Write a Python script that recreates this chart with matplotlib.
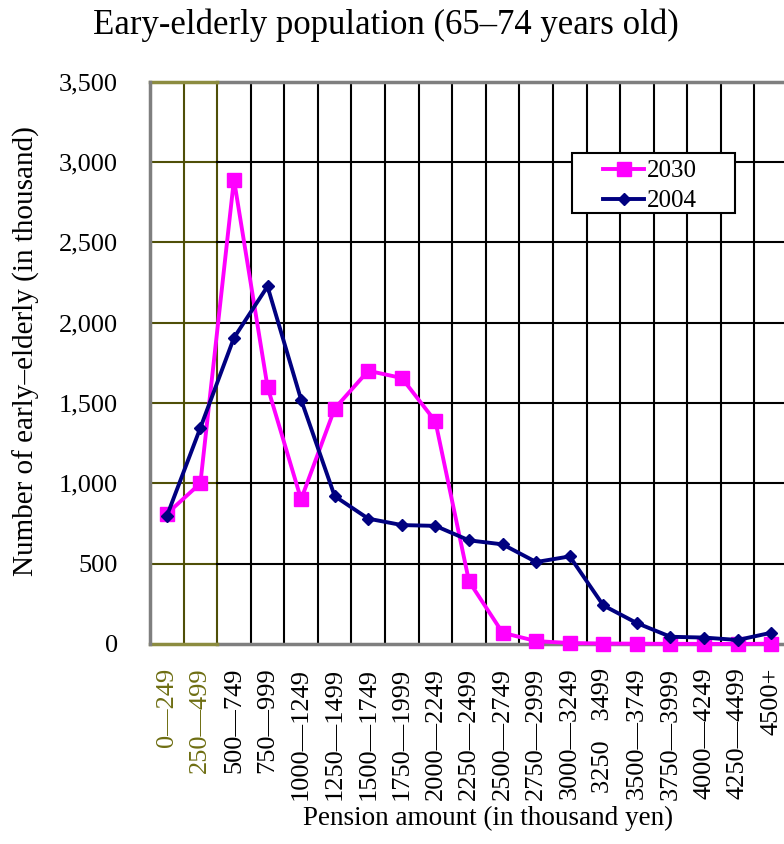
import matplotlib
matplotlib.use("Agg")
import matplotlib.pyplot as plt
from matplotlib.patches import Rectangle
import numpy as np

plt.rcParams["font.family"] = ["Liberation Serif", "DejaVu Serif"]

# data (thousand persons)
categories = ["0—249", "250—499", "500—749", "750—999", "1000—1249", "1250—1499",
              "1500—1749", "1750—1999", "2000—2249", "2250—2499", "2500—2749",
              "2750—2999", "3000—3249", "3250   3499", "3500—3749", "3750—3999",
              "4000—4249", "4250—4499", "4500+"]
pop_2030 = [810, 1000, 2890, 1600, 900, 1465, 1700, 1655, 1385, 390, 70,
            18, 6, 3, 2, 1, 1, 0, 2]
pop_2004 = [795, 1345, 1905, 2225, 1520, 920, 780, 740, 735, 645, 620,
            510, 545, 240, 130, 45, 40, 25, 70]
yticks = [0, 500, 1000, 1500, 2000, 2500, 3000, 3500]

W, H = 784, 844
OLIVE_GRID = "#4f4f08"
OLIVE_EDGE = "#8c8c40"
OLIVE_TEXT = "#6e6e12"
EDGE_GRAY = "#7f7f7f"

fig = plt.figure(figsize=(W / 100, H / 100), dpi=100)
ax = fig.add_axes([150 / W, (H - 644) / H, (788 - 150) / W, (644 - 81.5) / H])

n = len(categories)
x = np.arange(n)
ax.set_xlim(-0.5, n - 0.5)
ax.set_ylim(0, 3500)

# grid: first two columns drawn in olive
for k in range(1, n):
    ax.axvline(k - 0.5, color=OLIVE_GRID if k <= 2 else "black", lw=1.5, zorder=1)
for v in yticks[1:-1]:
    ax.plot([-0.5, 1.5], [v, v], color=OLIVE_GRID, lw=1.5, zorder=1)
    ax.plot([1.5, n - 0.5], [v, v], color="black", lw=1.5, zorder=1)
for v in (0, 3500):
    ax.plot([1.5, n - 0.5], [v, v], color=EDGE_GRAY, lw=2.5, zorder=2, clip_on=False)
    ax.plot([-0.5, 1.5], [v, v], color=OLIVE_EDGE, lw=2.5, zorder=2, clip_on=False)

for s in ["top", "bottom", "right"]:
    ax.spines[s].set_visible(False)
ax.spines["left"].set_color(EDGE_GRAY)
ax.spines["left"].set_linewidth(2.5)

ax.plot(x, pop_2030, color="#ff00ff", lw=2.8, marker="s", markersize=10,
        label="2030", zorder=3, clip_on=False)
ax.plot(x, pop_2004, color="#000080", lw=2.8, marker="D", markersize=6,
        label="2004", zorder=4, clip_on=False)

ax.set_yticks(yticks)
ax.set_yticklabels(["{:,}".format(v) for v in yticks], fontsize=19)
ax.set_xticks(x)
ax.set_xticklabels(categories, rotation=90, fontsize=19, va="top", ha="center")
for i, lab in enumerate(ax.get_xticklabels()):
    if i < 2:
        lab.set_color(OLIVE_TEXT)
ax.tick_params(axis="y", length=0, pad=23)
ax.tick_params(axis="x", length=0, pad=17)

# legend box drawn separately to match the wide frame
box = Rectangle((572 / W, 1 - 213 / H), (735 - 572) / W, 60 / H,
                transform=fig.transFigure, facecolor="white",
                edgecolor="black", lw=1.5, zorder=5, clip_on=False)
ax.add_patch(box)
leg = ax.legend(loc="center left", bbox_to_anchor=(603 / W, 1 - 186 / H),
                bbox_transform=fig.transFigure, fontsize=18, frameon=False,
                handlelength=1.65, borderpad=0, borderaxespad=0,
                labelspacing=0.3, handletextpad=0.1)
leg.set_zorder(6)

fig.text(386 / W, 1 - 25 / H, "Eary-elderly population (65–74 years old)",
         fontsize=25, ha="center", va="center")
fig.text(488 / W, 1 - 818 / H, "Pension amount (in thousand yen)",
         fontsize=19.5, ha="center", va="center")
fig.text(26 / W, 1 - 351 / H, "Number of early–elderly (in thousand)",
         fontsize=21, ha="center", va="center", rotation=90)

fig.savefig("out.png", dpi=100)
